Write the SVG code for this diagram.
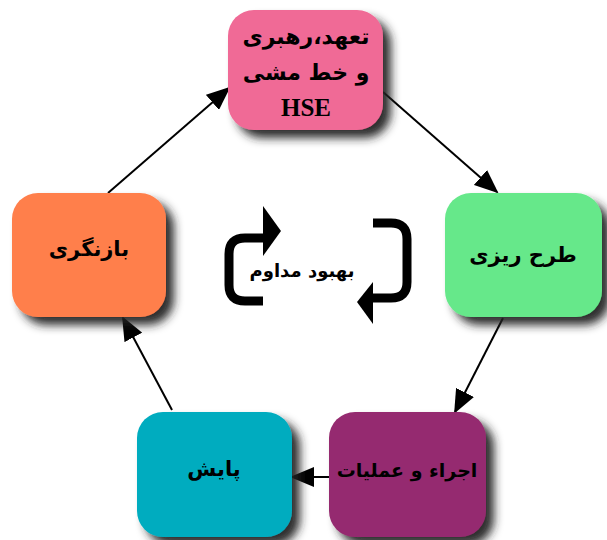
<svg xmlns="http://www.w3.org/2000/svg" width="607" height="540" viewBox="0 0 607 540">
<style>
.lbl{font-family:"DejaVu Sans","Noto Sans",sans-serif;font-weight:bold;font-size:21px;fill:#000;text-anchor:middle;}
.hse{font-family:"Liberation Serif",serif;font-weight:bold;font-size:25px;fill:#000;text-anchor:middle;}
.conn{stroke:#000;stroke-width:2;fill:none;}
.loop{stroke:#000;stroke-width:9;fill:none;}
</style>
<defs>
<filter id="sh" x="-20%" y="-20%" width="150%" height="150%">
<feGaussianBlur in="SourceAlpha" stdDeviation="5"/>
<feOffset dx="8" dy="8" result="b"/>
<feFlood flood-color="#222" flood-opacity="0.95"/>
<feComposite in2="b" operator="in"/>
<feMerge><feMergeNode/><feMergeNode in="SourceGraphic"/></feMerge>
</filter>
<marker id="ah" markerWidth="12" markerHeight="10" refX="11" refY="5" orient="auto" markerUnits="strokeWidth">
<path d="M0,0 L12,5 L0,10 Z" fill="#000"/>
</marker>
</defs>
<g id="connectors">
<line class="conn" x1="108" y1="193" x2="229" y2="88" marker-end="url(#ah)"/>
<line class="conn" x1="383" y1="92" x2="497" y2="192" marker-end="url(#ah)"/>
<line class="conn" x1="503" y1="318" x2="455" y2="412" marker-end="url(#ah)"/>
<line class="conn" x1="329" y1="477" x2="292" y2="477" marker-end="url(#ah)"/>
<line class="conn" x1="172" y1="410" x2="123" y2="318" marker-end="url(#ah)"/>
</g>
<g id="n-leadership">
<rect x="228" y="10" width="155" height="120" rx="26" fill="#F06A96" filter="url(#sh)"/>
<text class="lbl" x="306" y="44" style="font-size:22px">تعهد،رهبری</text>
<text class="lbl" x="306" y="80" style="font-size:22px">و خط مشی</text>
<text class="hse" x="306" y="116">HSE</text>
</g>
<g id="n-planning">
<rect x="445" y="193" width="157" height="124" rx="26" fill="#66E88A" filter="url(#sh)"/>
<text class="lbl" x="523" y="262">طرح ریزی</text>
</g>
<g id="n-operations">
<rect x="329" y="412" width="157" height="125" rx="26" fill="#952B6F" filter="url(#sh)"/>
<text class="lbl" x="407" y="477" style="font-size:19px">اجراء و عملیات</text>
</g>
<g id="n-monitoring">
<rect x="137" y="412" width="155" height="125" rx="26" fill="#00ACBF" filter="url(#sh)"/>
<text class="lbl" x="214" y="476">پایش</text>
</g>
<g id="n-review">
<rect x="12" y="193" width="154" height="124" rx="26" fill="#FF7F4B" filter="url(#sh)"/>
<text class="lbl" x="89" y="256">بازنگری</text>
</g>
<g id="center">
<path class="loop" d="M263,301 H245 Q229,301 229,285 V254 Q229,238 245,238 H265"/>
<path d="M263,206 L281,231 L263,256 Z" fill="#000"/>
<path class="loop" d="M373,223 H391 Q407,223 407,239 V282 Q407,298 391,298 H370"/>
<path d="M373,282 L357,302 L373,324 Z" fill="#000"/>
<text class="lbl" x="302" y="277" style="font-size:18px">بهبود مداوم</text>
</g>
</svg>
